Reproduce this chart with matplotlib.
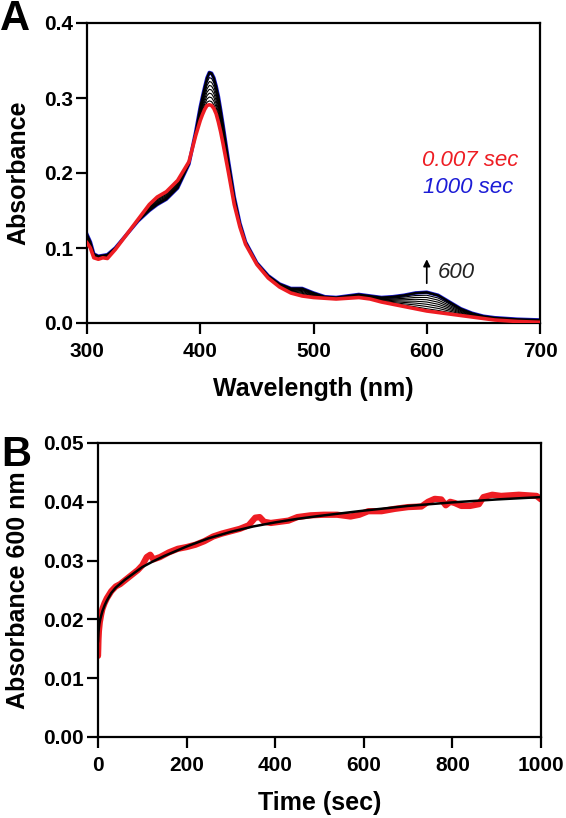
import numpy as np
import matplotlib
matplotlib.use("Agg")
import matplotlib.pyplot as plt

plt.rcParams['font.family'] = ['Liberation Sans', 'DejaVu Sans']

# ---- Panel A : spectra ----
wl = [300, 303, 306, 310, 314, 318, 325, 335, 345, 355, 362, 370, 380, 390, 396,
      400, 402, 404, 406, 408, 410, 412, 414, 416, 418, 420, 425, 430, 435, 440,
      450, 460, 470, 480, 490, 500, 510, 520, 530, 540, 550, 560, 570, 580, 590,
      600, 610, 620, 630, 640, 650, 660, 680, 700]
abs_first = [0.107, 0.100, 0.087, 0.085, 0.087, 0.086, 0.098, 0.118, 0.138, 0.158,
             0.168, 0.175, 0.190, 0.215, 0.250, 0.270, 0.278, 0.285, 0.290, 0.291,
             0.290, 0.286, 0.279, 0.268, 0.255, 0.240, 0.200, 0.158, 0.128, 0.105,
             0.078, 0.060, 0.048, 0.040, 0.036, 0.034, 0.033, 0.032, 0.033, 0.034,
             0.032, 0.028, 0.025, 0.022, 0.019, 0.016, 0.014, 0.012, 0.010, 0.008,
             0.006, 0.004, 0.002, 0.001]
abs_last = [0.118, 0.108, 0.092, 0.089, 0.090, 0.091, 0.100, 0.118, 0.136, 0.150,
            0.158, 0.165, 0.180, 0.212, 0.255, 0.288, 0.302, 0.315, 0.327, 0.334,
            0.333, 0.327, 0.316, 0.302, 0.284, 0.265, 0.215, 0.168, 0.133, 0.108,
            0.080, 0.063, 0.052, 0.046, 0.046, 0.040, 0.035, 0.034, 0.036, 0.038,
            0.036, 0.034, 0.035, 0.037, 0.040, 0.041, 0.037, 0.028, 0.019, 0.013,
            0.009, 0.007, 0.005, 0.004]
# A600 of the intermediate (black) traces
mid_a600 = [0.019, 0.022, 0.025, 0.028, 0.031, 0.034, 0.037, 0.040]

# ---- Panel B : kinetics at 600 nm ----
t_obs = [0, 0.5, 1, 2, 4, 7, 10, 15, 20, 30, 40, 50, 60, 75, 90, 100, 110, 118,
         125, 140, 160, 180, 200, 220, 240, 260, 280, 300, 320, 340, 355, 365, 375,
         390, 410, 430, 450, 480, 510, 540, 570, 590, 610, 640, 670, 700, 730, 745,
         760, 775, 785, 795, 805, 820, 840, 860, 870, 890, 910, 930, 950, 970, 990,
         1000]
a_obs = [0.0138, 0.0150, 0.0165, 0.0180, 0.0195, 0.0208, 0.0218, 0.0228, 0.0236,
         0.0248, 0.0256, 0.0260, 0.0266, 0.0275, 0.0284, 0.0292, 0.0306, 0.0310,
         0.0302, 0.0306, 0.0314, 0.0320, 0.0323, 0.0327, 0.0333, 0.0341, 0.0346,
         0.0350, 0.0354, 0.0360, 0.0373, 0.0374, 0.0366, 0.0364, 0.0366, 0.0368,
         0.0374, 0.0377, 0.0378, 0.0378, 0.0375, 0.0378, 0.0384, 0.0384, 0.0388,
         0.0391, 0.0392, 0.0400, 0.0405, 0.0404, 0.0394, 0.0400, 0.0398, 0.0393,
         0.0393, 0.0396, 0.0408, 0.0412, 0.0410, 0.0411, 0.0412, 0.0411, 0.0410,
         0.0404]
t_fit = [0, 1, 2, 3, 5, 7, 10, 15, 20, 30, 40, 60, 80, 100, 125, 150, 200, 250,
         300, 350, 400, 450, 500, 600, 700, 800, 900, 1000]
a_fit = [0.0163, 0.0178, 0.0186, 0.0192, 0.0200, 0.0206, 0.0214, 0.0224, 0.0232,
         0.0245, 0.0254, 0.0267, 0.0278, 0.0289, 0.0299, 0.0308, 0.0324, 0.0338,
         0.0349, 0.0358, 0.0365, 0.0371, 0.0376, 0.0385, 0.0393, 0.0399, 0.0404,
         0.0408]

RED = '#ee1d23'
BLUE = '#1c1cd6'
W, H = 566, 818

fig = plt.figure(figsize=(W / 100, H / 100), dpi=100)
axA = fig.add_axes([87 / W, 1 - 323 / H, 453 / W, 300 / H])
axB = fig.add_axes([98 / W, 1 - 737 / H, 443 / W, 294 / H])


def style(ax):
    for s in ax.spines.values():
        s.set_linewidth(1.6)
    ax.tick_params(direction='out', length=8, width=1.6, labelsize=15)
    ax.tick_params(axis='x', pad=6)
    ax.tick_params(axis='y', pad=2)
    for lab in ax.get_xticklabels() + ax.get_yticklabels():
        lab.set_fontweight('bold')


# panel A
wl_a = np.array(wl)
first = np.array(abs_first)
last = np.array(abs_last)
i600 = wl.index(600)
axA.plot(wl_a, last, color=BLUE, lw=2.6, zorder=2)
for lev in mid_a600:
    f = (lev - first[i600]) / (last[i600] - first[i600])
    axA.plot(wl_a, first + f * (last - first), color='black', lw=0.8, zorder=3)
axA.plot(wl_a, last, color='black', lw=1.6, zorder=3)
axA.plot(wl_a, first, color=RED, lw=2.6, zorder=4)
axA.set_xlim(300, 700)
axA.set_ylim(0, 0.4)
axA.set_xticks([300, 400, 500, 600, 700])
axA.set_yticks([0.0, 0.1, 0.2, 0.3, 0.4])
axA.set_yticklabels(['0.0', '0.1', '0.2', '0.3', '0.4'])
style(axA)
axA.text(596, 0.216, '0.007 sec', color=RED, fontsize=16, style='italic', va='center')
axA.text(596.5, 0.181, '1000 sec', color=BLUE, fontsize=16, style='italic', va='center')
axA.annotate('', xy=(600, 0.085), xytext=(600, 0.053),
             arrowprops=dict(arrowstyle='-|>', color='black', lw=1.2,
                             mutation_scale=10, shrinkA=0, shrinkB=0))
axA.text(610, 0.067, '600', color='#222222', fontsize=16, style='italic', va='center')

# panel B
axB.plot(t_obs, a_obs, color=RED, lw=4.5, solid_capstyle='round', zorder=2)
axB.plot(t_fit, a_fit, color='black', lw=1.8, zorder=3)
axB.set_xlim(0, 1000)
axB.set_ylim(0, 0.05)
axB.set_xticks([0, 200, 400, 600, 800, 1000])
axB.set_yticks([0.00, 0.01, 0.02, 0.03, 0.04, 0.05])
axB.set_yticklabels(['0.00', '0.01', '0.02', '0.03', '0.04', '0.05'])
style(axB)

# labels
fig.text(313 / W, 1 - 389 / H, 'Wavelength (nm)', fontsize=18, fontweight='bold',
         ha='center', va='center')
fig.text(18 / W, 1 - 173 / H, 'Absorbance', fontsize=18, fontweight='bold',
         ha='center', va='center', rotation=90)
fig.text(320 / W, 1 - 803 / H, 'Time (sec)', fontsize=18, fontweight='bold',
         ha='center', va='center')
fig.text(18 / W, 1 - 590 / H, 'Absorbance 600 nm', fontsize=18, fontweight='bold',
         ha='center', va='center', rotation=90)
fig.text(15 / W, 1 - 19 / H, 'A', fontsize=30, fontweight='bold', ha='center', va='center')
fig.text(16 / W, 1 - 455 / H, 'B', fontsize=30, fontweight='bold', ha='center', va='center')

fig.savefig('out.png', dpi=100)
